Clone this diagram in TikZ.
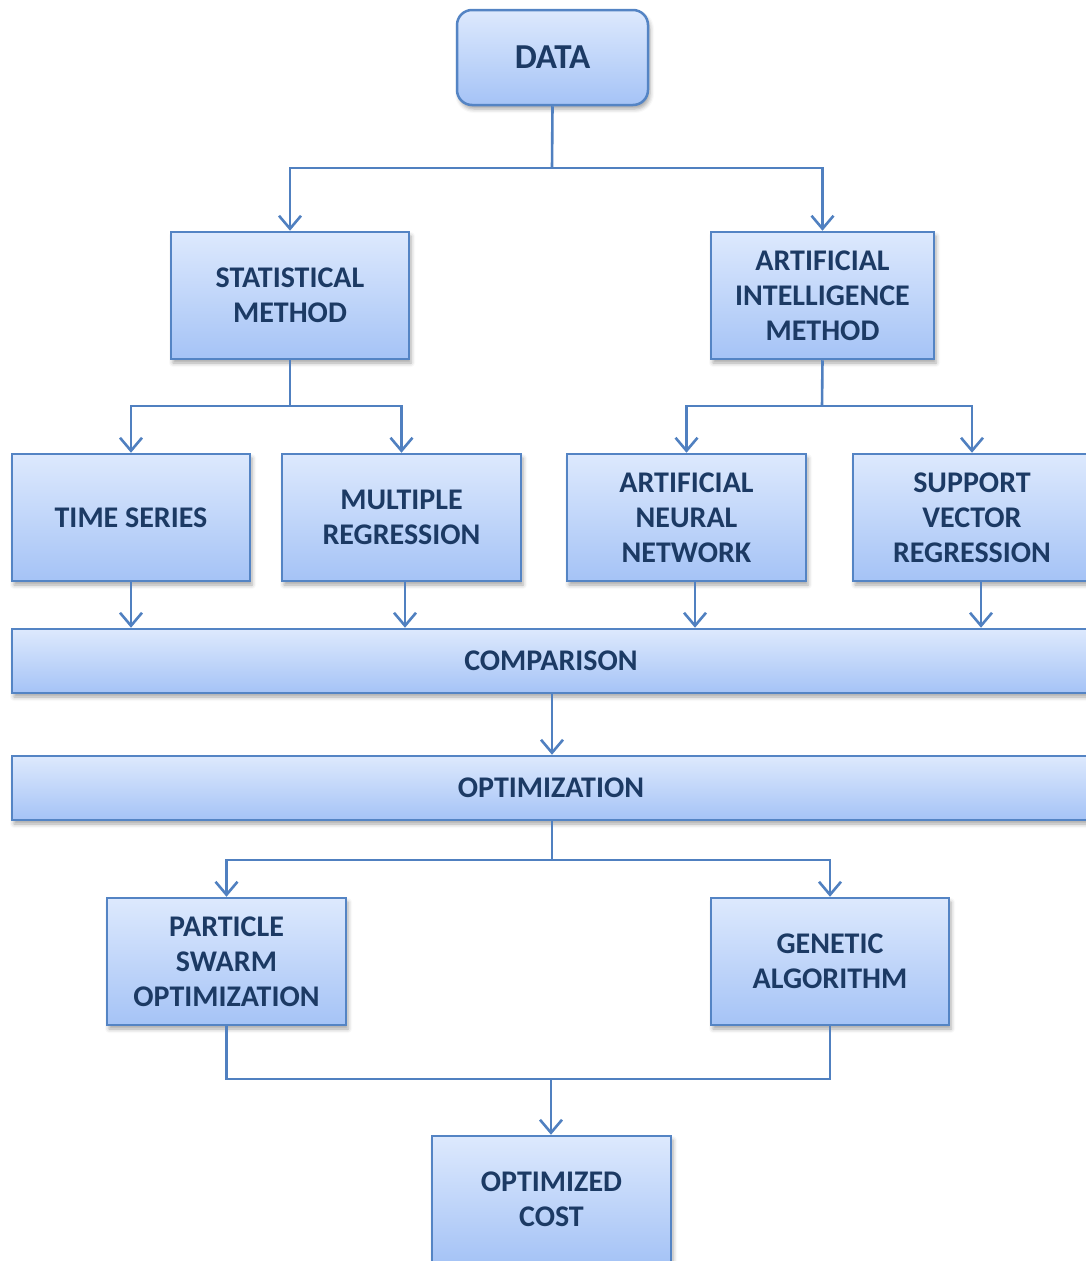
\documentclass[tikz,border=0pt]{standalone}
\usepackage{fontspec}
\setmainfont{Carlito}
\usetikzlibrary{arrows.meta,shadows.blur}

\definecolor{boxtop}{RGB}{221,233,253}
\definecolor{boxbot}{RGB}{165,195,246}
\definecolor{boxline}{RGB}{84,132,196}
\definecolor{linkline}{RGB}{80,128,192}
\definecolor{labeltext}{RGB}{28,58,100}

\tikzset{
  block/.style={draw=boxline, line width=2.5pt, top color=boxtop, bottom color=boxbot,
    inner sep=0pt, align=center, text=labeltext,
    font=\fontsize{30}{35}\selectfont\bfseries,
    blur shadow={shadow xshift=2pt, shadow yshift=-4pt, shadow blur radius=4pt, shadow opacity=35}},
  conn/.style={draw=linkline, line width=2.6pt},
  arr/.style={conn, -{Straight Barb[length=13pt,width=22pt,line width=2.6pt]}}
}

\begin{document}
\begin{tikzpicture}[x=1pt,y=-1pt]
\useasboundingbox (0,0) rectangle (1086,1261);
\clip (0,0) rectangle (1086,1261);

% boxes
\node[block, rounded corners=15pt, minimum width=191pt, minimum height=95pt,
      font=\fontsize{35}{40}\selectfont\bfseries] (data) at (552.5,57.5) {DATA};
\node[block, minimum width=238pt, minimum height=127pt] (stat) at (290,295.5) {STATISTICAL\\METHOD};
\node[block, minimum width=223pt, minimum height=127pt] (ai) at (822.5,295.5) {ARTIFICIAL\\INTELLIGENCE\\METHOD};
\node[block, minimum width=238pt, minimum height=127pt] (ts) at (131,517.5) {TIME SERIES};
\node[block, minimum width=239pt, minimum height=127pt] (mr) at (401.5,517.5) {MULTIPLE\\REGRESSION};
\node[block, minimum width=239pt, minimum height=127pt] (ann) at (686.5,517.5) {ARTIFICIAL\\NEURAL\\NETWORK};
\node[block, minimum width=238pt, minimum height=127pt] (svr) at (972,517.5) {SUPPORT\\VECTOR\\REGRESSION};
\node[block, minimum width=1078pt, minimum height=64pt] (cmp) at (551,661) {COMPARISON};
\node[block, minimum width=1078pt, minimum height=64pt] (opt) at (551,788) {OPTIMIZATION};
\node[block, minimum width=239pt, minimum height=127pt] (pso) at (226.5,961.5) {PARTICLE\\SWARM\\OPTIMIZATION};
\node[block, minimum width=238pt, minimum height=127pt] (ga) at (830,961.5) {GENETIC\\ALGORITHM};
\node[block, minimum width=239pt, minimum height=127pt] (cost) at (551.5,1199.5) {OPTIMIZED\\COST};

% junction points
\coordinate (j1) at (552,168);
\coordinate (j2) at (290,406);
\coordinate (j3) at (822,406);
\coordinate (j4) at (552,860);
\coordinate (j5) at (551,1079);

% connectors
\draw[conn] (data.south) -- (j1);
\draw[arr] (j1) -| (stat.north);
\draw[arr] (j1) -| (ai.north);

\draw[conn] (stat.south) -- (j2);
\draw[arr] (j2) -| (ts.north);
\draw[arr] (j2) -| (mr.north);

\draw[conn] (ai.south) -- (j3);
\draw[arr] (j3) -| (ann.north);
\draw[arr] (j3) -| (svr.north);

\draw[arr] (ts.south) -- (ts.south |- cmp.north);
\draw[arr] ([xshift=3.5pt]mr.south) -- ([xshift=3.5pt]mr.south |- cmp.north);
\draw[arr] ([xshift=8.5pt]ann.south) -- ([xshift=8.5pt]ann.south |- cmp.north);
\draw[arr] ([xshift=9pt]svr.south) -- ([xshift=9pt]svr.south |- cmp.north);

\draw[arr] ([xshift=1pt]cmp.south) -- ([xshift=1pt]opt.north);

\draw[conn] ([xshift=1pt]opt.south) -- (j4);
\draw[arr] (j4) -| (pso.north);
\draw[arr] (j4) -| (ga.north);

\draw[conn] (pso.south) |- (j5) -| (ga.south);
\draw[arr] (j5) -- (j5 |- cost.north);
\end{tikzpicture}
\end{document}
